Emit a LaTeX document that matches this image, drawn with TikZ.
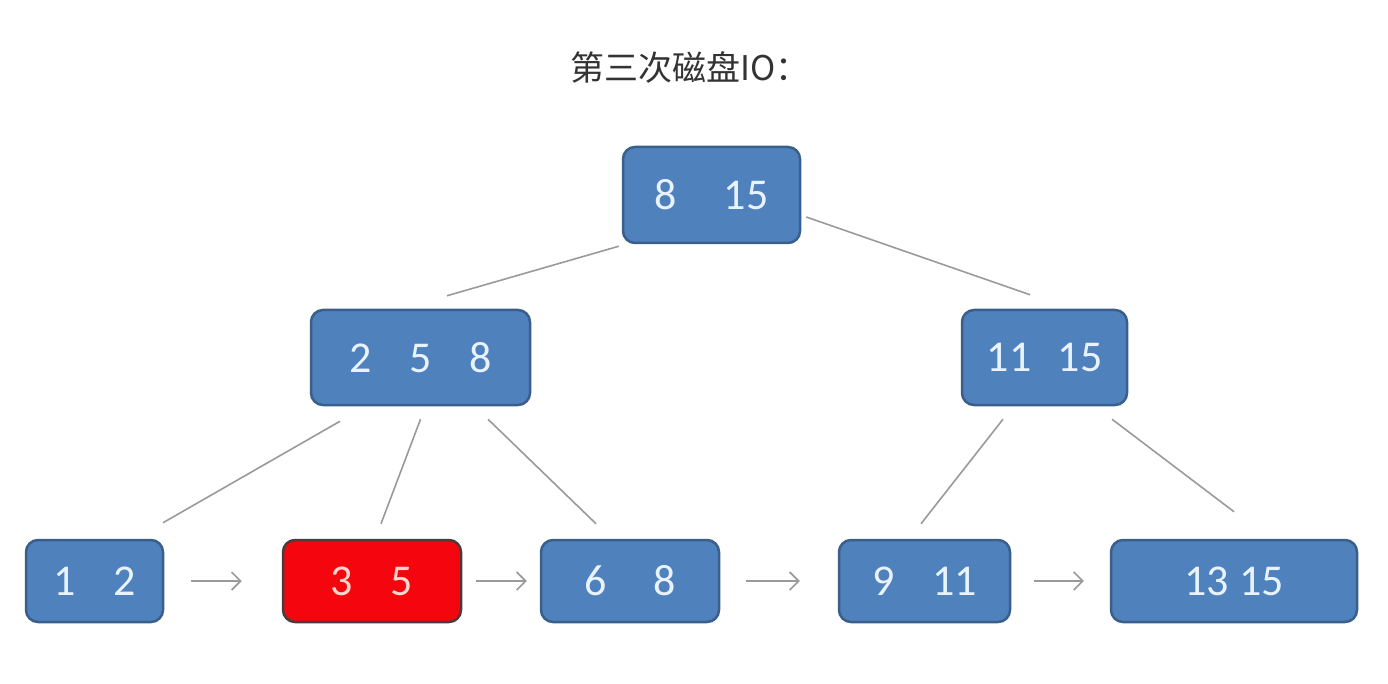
\documentclass[tikz,border=0pt]{standalone}
\usepackage{fontspec}
\setmainfont{Carlito}
\newfontfamily\cjk{Noto Sans CJK SC}
\usetikzlibrary{positioning, arrows.meta}
\definecolor{nodeblue}{HTML}{4F81BD}
\definecolor{nodeedge}{HTML}{3A5F8B}
\definecolor{hitred}{HTML}{F5060E}
\definecolor{hitedge}{HTML}{4E3A3C}
\definecolor{keytext}{HTML}{E8F3FF}
\definecolor{hittext}{HTML}{FFD6CC}
\definecolor{linkgray}{HTML}{9A9A9A}
\definecolor{titlegray}{HTML}{333333}

\begin{document}
\begin{tikzpicture}[x=1pt, y=-1pt]
                \tikzstyle{every node}=[font=\fontsize{44}{48}\selectfont]
                \tikzstyle{block} = [rectangle, rounded corners=12pt, draw=nodeedge, line width=2.5pt, fill=nodeblue, text=keytext, inner sep=0pt]
                \tikzstyle{hit} = [block, draw=hitedge, fill=hitred, text=hittext]
                \tikzstyle{branch} = [draw=linkgray, line width=1.6pt]
                \tikzstyle{link} = [draw=linkgray, line width=1.6pt, -{Straight Barb[length=9pt, width=18pt]}]

                \useasboundingbox[fill=white] (0,0) rectangle (1388,684);

                % title
                \node[anchor=west, inner sep=0pt, text=titlegray, font=\cjk\fontsize{34}{40}\selectfont](title) at (570,67) {第三次磁盘IO：};

                % root and inner nodes
                \node[block, minimum width=177pt, minimum height=96pt](root) at (711.5,195) {8\hspace{1.07em}15};
                \node[block, minimum width=219pt, minimum height=95pt](L) at (420.5,357.5) {2\hspace{0.86em}5\hspace{0.86em}8};
                \node[block, minimum width=165pt, minimum height=95pt](R) at (1044.5,357.5) {11\hspace{0.6em}15};

                % leaves
                \node[block, minimum width=137pt, minimum height=82pt](n12) at (94.5,581) {1\hspace{0.85em}2};
                \node[hit, minimum width=178pt, minimum height=82pt](n35) at (372,581) {3\hspace{0.86em}5};
                \node[block, minimum width=178pt, minimum height=82pt](n68) at (630,581) {6\hspace{1.07em}8};
                \node[block, minimum width=171pt, minimum height=82pt](n911) at (924.5,581) {9\hspace{0.86em}11};
                \node[block, minimum width=246pt, minimum height=82pt](n1315) at (1234,581) {13 15};

                % branches
                \draw[branch] ([xshift=-3pt,yshift=-2pt]root.south west) -- ([xshift=26.5pt,yshift=13pt]L.north);
                \draw[branch] ([xshift=5pt,yshift=-22pt]root.east) -- ([xshift=-14.5pt,yshift=14pt]R.north);
                \draw[branch] ([xshift=-80.5pt,yshift=-15pt]L.south) -- ([xshift=68.5pt,yshift=16pt]n12.north);
                \draw[branch] ([yshift=-13pt]L.south) -- ([xshift=9pt,yshift=15pt]n35.north);
                \draw[branch] ([xshift=67.5pt,yshift=-13pt]L.south) -- ([xshift=-34pt,yshift=15pt]n68.north);
                \draw[branch] ([xshift=-41.5pt,yshift=-13pt]R.south) -- ([xshift=-3.5pt,yshift=15pt]n911.north);
                \draw[branch] ([xshift=67.5pt,yshift=-13pt]R.south) -- ([yshift=27pt]n1315.north);

                % leaf chain
                \draw[link, shorten <=27pt, shorten >=40pt] (n12.east) -- (n35.west);
                \draw[link, shorten <=14pt, shorten >=13pt] (n35.east) -- (n68.west);
                \draw[link, shorten <=26pt, shorten >=38pt] (n68.east) -- (n911.west);
                \draw[link, shorten <=23pt, shorten >=26pt] (n911.east) -- (n1315.west);

        \end{tikzpicture}
\end{document}
